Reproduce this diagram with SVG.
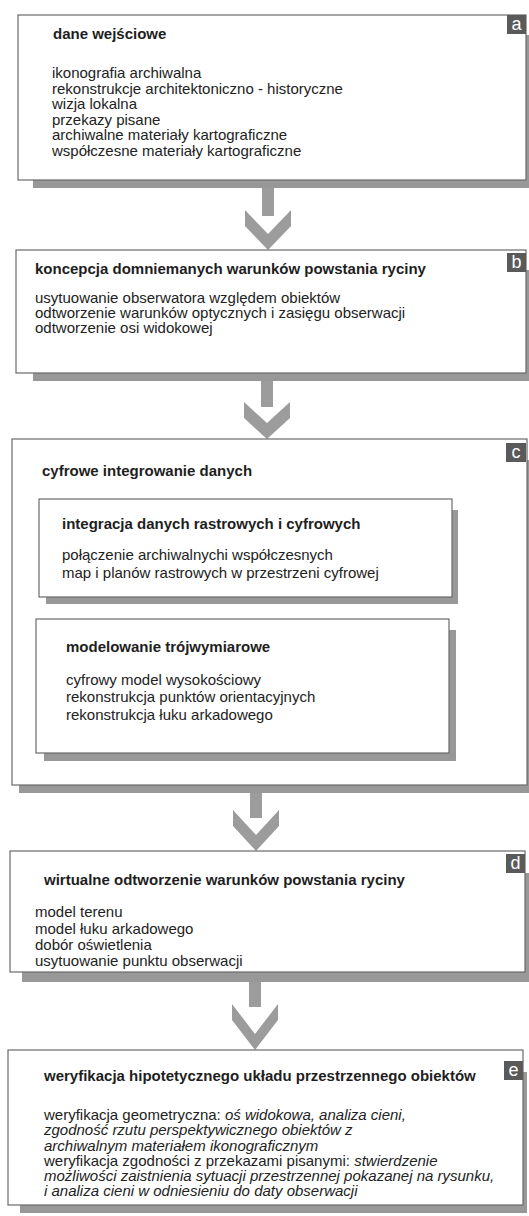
<svg xmlns="http://www.w3.org/2000/svg" width="529" height="1216" viewBox="0 0 529 1216">
<style>
.bg{fill:#ffffff}
.box{fill:#ffffff;stroke:#6a6a6a;stroke-width:1.2}
.sh{fill:#989898}
.arr{fill:#9c9c9c}
.badge{fill:#5a5a5a}
.bl{font-family:"Liberation Sans",Arial,sans-serif;font-size:18px;fill:#ffffff;text-anchor:middle}
.t{font-family:"Liberation Sans",Arial,sans-serif;font-size:15px;font-weight:bold;fill:#1e1e1e}
.b{font-family:"Liberation Sans",Arial,sans-serif;font-size:15px;fill:#222222}
.i{font-style:italic}
</style>
<rect class="bg" x="0" y="0" width="529" height="1216"/>

<g id="connectors">
  <rect class="arr" x="262" y="188" width="12" height="28"/>
  <polygon class="arr" points="245,210 268,234 291,210 291,226 268,250 245,226"/>
  <rect class="arr" x="261" y="381" width="12" height="26"/>
  <polygon class="arr" points="244,402 267,423 290,402 290,418 267,439 244,418"/>
  <rect class="arr" x="250" y="793" width="12" height="25"/>
  <polygon class="arr" points="233,810 256,835 279,810 279,826 256,851 233,826"/>
  <rect class="arr" x="249" y="982" width="12" height="25"/>
  <polygon class="arr" points="232,1004 255,1034 278,1004 278,1020 255,1050 232,1020"/>
</g>

<g id="node-a">
  <rect class="sh" x="33" y="35" width="496" height="153"/>
  <rect class="box" x="18" y="15" width="508" height="165"/>
  <rect class="badge" x="507" y="15" width="19" height="19"/>
  <text class="bl" x="516.5" y="30">a</text>
  <text class="t" x="53" y="39">dane wejściowe</text>
  <text class="b" x="52" y="78">ikonografia archiwalna</text>
  <text class="b" x="52" y="93.5">rekonstrukcje architektoniczno - historyczne</text>
  <text class="b" x="52" y="109">wizja lokalna</text>
  <text class="b" x="52" y="124.5">przekazy pisane</text>
  <text class="b" x="52" y="140">archiwalne materiały kartograficzne</text>
  <text class="b" x="52" y="155.5">współczesne materiały kartograficzne</text>
</g>

<g id="node-b">
  <rect class="sh" x="33" y="270" width="496" height="111"/>
  <rect class="box" x="16" y="250" width="510" height="123"/>
  <rect class="badge" x="507" y="253" width="19" height="19"/>
  <text class="bl" x="516.5" y="268">b</text>
  <text class="t" x="35" y="274">koncepcja domniemanych warunków powstania ryciny</text>
  <text class="b" x="35" y="303">usytuowanie obserwatora względem obiektów</text>
  <text class="b" x="35" y="318">odtworzenie warunków optycznych i zasięgu obserwacji</text>
  <text class="b" x="35" y="333">odtworzenie osi widokowej</text>
</g>

<g id="node-c">
  <rect class="sh" x="19" y="460" width="510" height="333"/>
  <rect class="box" x="12" y="439" width="515" height="346"/>
  <rect class="badge" x="506" y="443" width="20" height="19"/>
  <text class="bl" x="516" y="458">c</text>
  <text class="t" x="42" y="476">cyfrowe integrowanie danych</text>
</g>

<g id="node-c1">
  <rect class="sh" x="46" y="510" width="412" height="94"/>
  <rect class="box" x="39" y="499" width="413" height="98"/>
  <text class="t" x="62" y="529">integracja danych rastrowych i cyfrowych</text>
  <text class="b" x="62" y="560">połączenie archiwalnychi współczesnych</text>
  <text class="b" x="62" y="578">map i planów rastrowych w przestrzeni cyfrowej</text>
</g>

<g id="node-c2">
  <rect class="sh" x="44" y="630" width="412" height="131"/>
  <rect class="box" x="36" y="619" width="413" height="134"/>
  <text class="t" x="66" y="652">modelowanie trójwymiarowe</text>
  <text class="b" x="66" y="685">cyfrowy model wysokościowy</text>
  <text class="b" x="66" y="702">rekonstrukcja punktów orientacyjnych</text>
  <text class="b" x="66" y="720">rekonstrukcja łuku arkadowego</text>
</g>

<g id="node-d">
  <rect class="sh" x="22" y="873" width="507" height="109"/>
  <rect class="box" x="10" y="851" width="515" height="121"/>
  <rect class="badge" x="506" y="854" width="19" height="19"/>
  <text class="bl" x="515.5" y="869">d</text>
  <text class="t" x="44" y="885">wirtualne odtworzenie warunków powstania ryciny</text>
  <text class="b" x="35" y="917">model terenu</text>
  <text class="b" x="35" y="934">model łuku arkadowego</text>
  <text class="b" x="35" y="950">dobór oświetlenia</text>
  <text class="b" x="35" y="966">usytuowanie punktu obserwacji</text>
</g>

<g id="node-e">
  <rect class="sh" x="20" y="1072" width="507" height="141"/>
  <rect class="box" x="8" y="1050" width="515" height="155"/>
  <rect class="badge" x="504" y="1061" width="19" height="19"/>
  <text class="bl" x="513.5" y="1076">e</text>
  <text class="t" x="44" y="1081">weryfikacja hipotetycznego układu przestrzennego obiektów</text>
  <text class="b" x="44" y="1120">weryfikacja geometryczna: <tspan class="i">oś widokowa, analiza cieni,</tspan></text>
  <text class="b i" x="44" y="1135">zgodność rzutu perspektywicznego obiektów z</text>
  <text class="b i" x="44" y="1151">archiwalnym materiałem ikonograficznym</text>
  <text class="b" x="44" y="1166">weryfikacja zgodności z przekazami pisanymi: <tspan class="i">stwierdzenie</tspan></text>
  <text class="b i" x="44" y="1181">możliwości zaistnienia sytuacji przestrzennej pokazanej na rysunku,</text>
  <text class="b i" x="44" y="1196">i analiza cieni w odniesieniu do daty obserwacji</text>
</g>
</svg>
